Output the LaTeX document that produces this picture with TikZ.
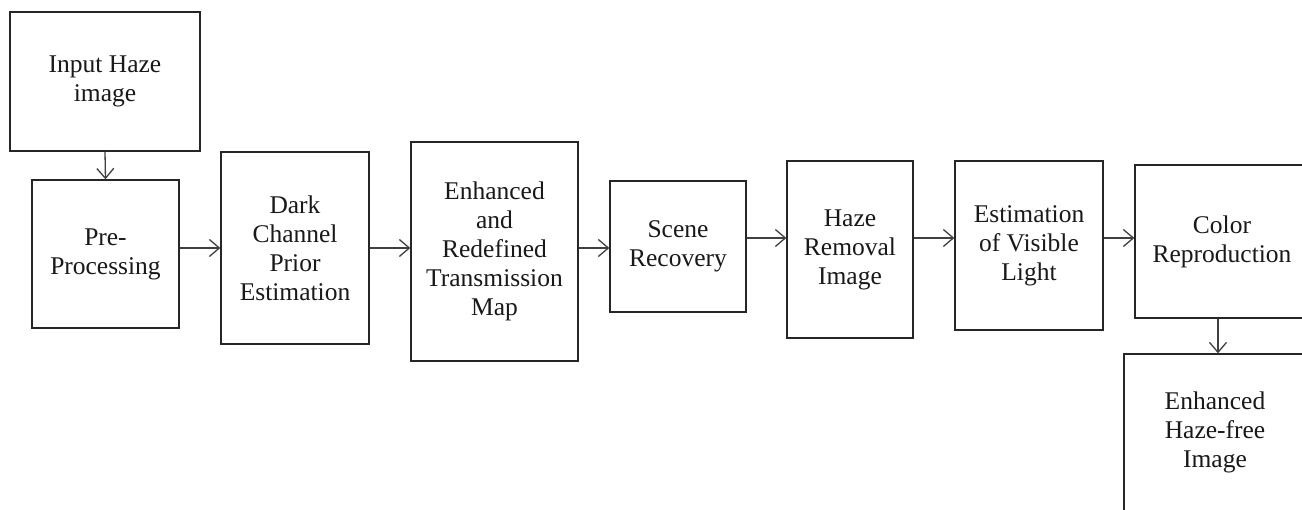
\documentclass[tikz,border=0pt]{standalone}
\usepackage{fontspec}
\setmainfont{Liberation Serif}
\usetikzlibrary{arrows.meta}
\begin{document}
\begin{tikzpicture}[x=1pt,y=-1pt,
  blk/.style={draw=black!85,line width=1.3pt,align=center,inner sep=0pt,
    font=\fontsize{25.5}{29}\selectfont,text=black!90},
  conn/.style={draw=black!75,line width=1.3pt,-{Straight Barb[length=10pt,width=17pt,line width=1.3pt]}}]
\useasboundingbox (0,0) rectangle (1302,510);
\clip (0,0) rectangle (1302,510);
\fill[white] (0,0) rectangle (1302,510);
\node[blk,minimum width=190pt,minimum height=139pt] (in) at (105,81.5) {Input Haze\\image};
\node[blk,minimum width=147pt,minimum height=148pt] (pre) at (105.5,254) {Pre-\\Processing};
\node[blk,minimum width=148pt,minimum height=192pt] (dark) at (295,248) {Dark\\Channel\\Prior\\Estimation};
\node[blk,minimum width=167pt,minimum height=219pt] (enh) at (494.5,251.5) {Enhanced\\and\\Redefined\\Transmission\\Map};
\node[blk,minimum width=136pt,minimum height=131pt] (scene) at (678,246.5) {Scene\\Recovery};
\node[blk,minimum width=126pt,minimum height=177pt] (haze) at (850,249.5) {Haze\\Removal\\Image};
\node[blk,minimum width=148pt,minimum height=169pt] (est) at (1029,245.5) {Estimation\\of Visible\\Light};
\node[blk,minimum width=174pt,minimum height=153pt] (col) at (1222,241.5) {Color\\Reproduction};
\node[blk,minimum width=182pt,minimum height=157pt] (out) at (1215,432.5) {Enhanced\\Haze-free\\Image};
\coordinate (ya) at (0,248);
\coordinate (yb) at (0,238);
\draw[conn] (in.south) -- (pre.north);
\draw[conn] (pre.east |- ya) -- (dark.west |- ya);
\draw[conn] (dark.east |- ya) -- (enh.west |- ya);
\draw[conn] (enh.east |- ya) -- (scene.west |- ya);
\draw[conn] (scene.east |- yb) -- (haze.west |- yb);
\draw[conn] (haze.east |- yb) -- (est.west |- yb);
\draw[conn] (est.east |- yb) -- (col.west |- yb);
\draw[conn] (col.south -| 1218,0) -- (out.north -| 1218,0);
\end{tikzpicture}
\end{document}
